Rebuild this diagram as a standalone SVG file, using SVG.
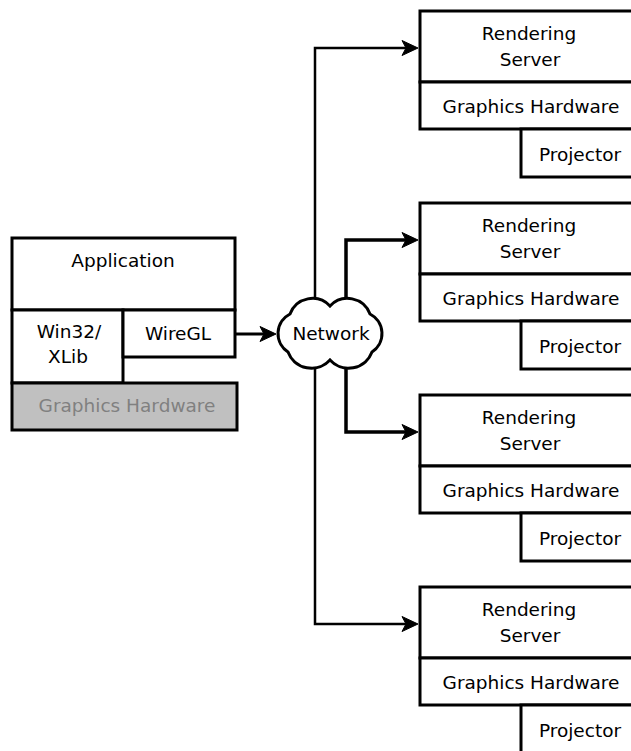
<svg xmlns="http://www.w3.org/2000/svg" width="631" height="751" viewBox="0 0 631 751">
<defs>
<style>
.box{fill:#fff;stroke:#000;stroke-width:3}
.gray{fill:#c0c0c0;stroke:#000;stroke-width:3}
.t{font-family:"DejaVu Sans","Liberation Sans",sans-serif;font-size:18.5px;fill:#000;text-anchor:middle}
.tg{fill:#808080}
.c{fill:none;stroke:#000;stroke-linejoin:miter}
.ah{fill:#000;stroke:#000;stroke-width:1;stroke-linejoin:round}
</style>
<path id="head" d="M-1,0 L-17,-7.5 L-13,0 L-17,7.5 Z"/>
</defs>
<rect width="631" height="751" fill="#fff"/>
<g id="connectors">
<path class="c" stroke-width="3" d="M235,334 H264"/>
<use href="#head" class="ah" transform="translate(277,334)"/>
<path class="c" stroke-width="2.5" d="M315,310 V48 H406"/>
<use href="#head" class="ah" transform="translate(419,48)"/>
<path class="c" stroke-width="3.5" d="M346,310 V240 H406"/>
<use href="#head" class="ah" transform="translate(419,240)"/>
<path class="c" stroke-width="3.5" d="M346,355 V432 H406"/>
<use href="#head" class="ah" transform="translate(419,432)"/>
<path class="c" stroke-width="2.5" d="M315,355 V624 H406"/>
<use href="#head" class="ah" transform="translate(419,624)"/>
</g>
<g id="application">
<rect class="box" x="12" y="238" width="223" height="72"/>
<text class="t" x="123" y="267">Application</text>
</g>
<g id="win32">
<rect class="box" x="12" y="310" width="111" height="73"/>
<text class="t" x="69" y="338">Win32/</text>
<text class="t" x="68" y="363">XLib</text>
</g>
<g id="wiregl">
<rect class="box" x="123" y="310" width="112" height="47"/>
<text class="t" x="178" y="340">WireGL</text>
</g>
<g id="client-gh">
<rect class="gray" x="12" y="383" width="225" height="47"/>
<text class="t tg" x="127" y="412">Graphics Hardware</text>
</g>
<g id="network">
<path fill="#fff" stroke="#000" stroke-width="3" d="M290,314 A24,24 0 0 1 330,306 A24,24 0 0 1 370,314 A22,22 0 0 1 372,352 A25,25 0 0 1 330,360 A25,25 0 0 1 288,352 A22,22 0 0 1 290,314 Z"/>
<text class="t" x="331" y="340">Network</text>
</g>
<g id="server1">
<rect class="box" x="420" y="11" width="225" height="71"/>
<text class="t" x="529" y="40">Rendering</text>
<text class="t" x="530" y="66">Server</text>
<rect class="box" x="420" y="82" width="225" height="47"/>
<text class="t" x="531" y="113">Graphics Hardware</text>
<rect class="box" x="521" y="129" width="124" height="48"/>
<text class="t" x="580" y="161">Projector</text>
</g>
<g id="server2">
<rect class="box" x="420" y="203" width="225" height="71"/>
<text class="t" x="529" y="232">Rendering</text>
<text class="t" x="530" y="258">Server</text>
<rect class="box" x="420" y="274" width="225" height="47"/>
<text class="t" x="531" y="305">Graphics Hardware</text>
<rect class="box" x="521" y="321" width="124" height="48"/>
<text class="t" x="580" y="353">Projector</text>
</g>
<g id="server3">
<rect class="box" x="420" y="395" width="225" height="71"/>
<text class="t" x="529" y="424">Rendering</text>
<text class="t" x="530" y="450">Server</text>
<rect class="box" x="420" y="466" width="225" height="47"/>
<text class="t" x="531" y="497">Graphics Hardware</text>
<rect class="box" x="521" y="513" width="124" height="48"/>
<text class="t" x="580" y="545">Projector</text>
</g>
<g id="server4">
<rect class="box" x="420" y="587" width="225" height="71"/>
<text class="t" x="529" y="616">Rendering</text>
<text class="t" x="530" y="642">Server</text>
<rect class="box" x="420" y="658" width="225" height="47"/>
<text class="t" x="531" y="689">Graphics Hardware</text>
<rect class="box" x="521" y="705" width="124" height="48"/>
<text class="t" x="580" y="737">Projector</text>
</g>
</svg>
